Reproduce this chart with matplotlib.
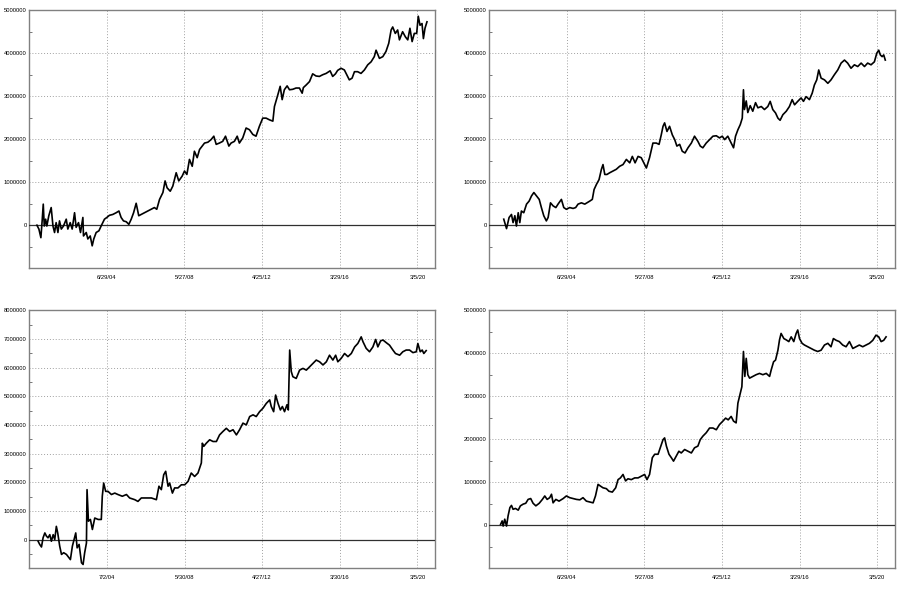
import numpy as np
import matplotlib
matplotlib.use("Agg")
import matplotlib.pyplot as plt
from matplotlib.ticker import FixedLocator, MultipleLocator, FuncFormatter

# equity curves (x = decimal year, y = millions)
yr1 = [2000.96, 2001.06, 2001.16, 2001.23, 2001.28, 2001.33, 2001.40, 2001.46, 2001.56, 2001.68,
       2001.77, 2001.85, 2001.93, 2002.02, 2002.10, 2002.19, 2002.30, 2002.44, 2002.52, 2002.64,
       2002.74, 2002.86, 2002.94, 2003.06, 2003.16, 2003.28, 2003.31, 2003.45, 2003.53, 2003.65,
       2003.75, 2003.83, 2003.95, 2004.09, 2004.20, 2004.37, 2004.49, 2004.62, 2004.79, 2004.96,
       2005.10, 2005.21, 2005.33, 2005.47, 2005.60, 2005.72, 2005.84, 2005.97, 2006.10, 2006.22,
       2006.39, 2006.56, 2006.73, 2006.89, 2007.01, 2007.15, 2007.32, 2007.43, 2007.53, 2007.69,
       2007.82, 2007.99, 2008.12, 2008.29, 2008.41, 2008.53, 2008.66, 2008.80, 2008.91, 2009.05,
       2009.17, 2009.30, 2009.42, 2009.59, 2009.75, 2009.89, 2010.01, 2010.17, 2010.34, 2010.48,
       2010.65, 2010.76, 2010.93, 2011.07, 2011.18, 2011.35, 2011.52, 2011.69, 2011.86, 2012.02,
       2012.19, 2012.36, 2012.53, 2012.70, 2012.87, 2012.95, 2013.12, 2013.24, 2013.34, 2013.45,
       2013.59, 2013.71, 2013.87, 2014.04, 2014.21, 2014.35, 2014.41, 2014.55, 2014.72, 2014.88,
       2015.05, 2015.22, 2015.39, 2015.56, 2015.76, 2015.89, 2016.03, 2016.14, 2016.31, 2016.48,
       2016.60, 2016.73, 2016.87, 2016.99, 2017.15, 2017.32, 2017.49, 2017.66, 2017.83, 2017.99,
       2018.08, 2018.25, 2018.42, 2018.58, 2018.72, 2018.84, 2018.92, 2019.05, 2019.17, 2019.26,
       2019.42, 2019.56, 2019.68, 2019.79, 2019.90, 2020.01, 2020.13, 2020.21, 2020.30, 2020.40,
       2020.47, 2020.55, 2020.65]
eq1 = [0.00, -0.09, -0.29, 0.14, 0.49, -0.02, 0.14, -0.02, 0.22, 0.41,
       -0.02, -0.17, 0.06, -0.17, 0.10, -0.09, -0.02, 0.14, -0.09, 0.06,
       -0.09, 0.29, -0.05, 0.06, -0.17, 0.18, -0.25, -0.17, -0.32, -0.25,
       -0.48, -0.32, -0.17, -0.13, -0.02, 0.14, 0.18, 0.23, 0.25, 0.29,
       0.33, 0.18, 0.10, 0.08, 0.02, 0.14, 0.29, 0.51, 0.22, 0.25,
       0.29, 0.33, 0.37, 0.41, 0.37, 0.60, 0.76, 1.03, 0.87, 0.79,
       0.91, 1.22, 1.03, 1.14, 1.26, 1.18, 1.53, 1.37, 1.72, 1.57,
       1.76, 1.84, 1.91, 1.93, 1.99, 2.07, 1.88, 1.91, 1.95, 2.07,
       1.84, 1.91, 1.95, 2.07, 1.91, 2.03, 2.26, 2.22, 2.11, 2.07,
       2.30, 2.49, 2.49, 2.45, 2.42, 2.76, 3.03, 3.23, 2.92, 3.15,
       3.24, 3.15, 3.16, 3.19, 3.19, 3.07, 3.20, 3.26, 3.34, 3.52,
       3.47, 3.46, 3.50, 3.53, 3.59, 3.46, 3.52, 3.60, 3.65, 3.61,
       3.50, 3.38, 3.42, 3.57, 3.57, 3.53, 3.61, 3.73, 3.80, 3.92,
       4.07, 3.88, 3.92, 4.04, 4.23, 4.54, 4.61, 4.46, 4.54, 4.31,
       4.50, 4.38, 4.31, 4.58, 4.27, 4.46, 4.46, 4.86, 4.65, 4.69,
       4.34, 4.58, 4.73]

yr2 = [2001.31, 2001.45, 2001.58, 2001.70, 2001.78, 2001.87, 2001.95, 2002.04, 2002.12, 2002.20,
       2002.32, 2002.46, 2002.59, 2002.71, 2002.83, 2002.93, 2003.10, 2003.21, 2003.33, 2003.46,
       2003.55, 2003.67, 2003.80, 2003.94, 2004.05, 2004.22, 2004.34, 2004.47, 2004.64, 2004.81,
       2004.94, 2005.06, 2005.23, 2005.40, 2005.65, 2005.78, 2005.87, 2005.99, 2006.12, 2006.24,
       2006.32, 2006.41, 2006.52, 2006.66, 2006.83, 2006.99, 2007.16, 2007.33, 2007.50, 2007.67,
       2007.80, 2007.94, 2008.09, 2008.25, 2008.51, 2008.67, 2008.84, 2009.01, 2009.15, 2009.26,
       2009.35, 2009.43, 2009.55, 2009.68, 2009.82, 2009.94, 2010.05, 2010.19, 2010.32, 2010.46,
       2010.61, 2010.78, 2010.94, 2011.11, 2011.23, 2011.36, 2011.53, 2011.70, 2011.87, 2012.04,
       2012.20, 2012.34, 2012.46, 2012.62, 2012.79, 2012.91, 2013.01, 2013.13, 2013.25, 2013.35,
       2013.41, 2013.46, 2013.55, 2013.63, 2013.75, 2013.88, 2014.02, 2014.14, 2014.31, 2014.47,
       2014.64, 2014.76, 2014.89, 2015.03, 2015.15, 2015.26, 2015.40, 2015.57, 2015.73, 2015.87,
       2015.99, 2016.15, 2016.32, 2016.44, 2016.57, 2016.74, 2016.88, 2016.99, 2017.11, 2017.21,
       2017.33, 2017.50, 2017.67, 2017.83, 2018.00, 2018.17, 2018.34, 2018.51, 2018.67, 2018.84,
       2019.01, 2019.18, 2019.35, 2019.52, 2019.68, 2019.85, 2020.02, 2020.14, 2020.24, 2020.32,
       2020.41, 2020.49, 2020.57]
eq2 = [0.14, -0.08, 0.18, 0.25, 0.06, 0.22, -0.02, 0.29, 0.06, 0.33,
       0.29, 0.49, 0.56, 0.68, 0.76, 0.70, 0.60, 0.41, 0.22, 0.10,
       0.18, 0.52, 0.45, 0.41, 0.49, 0.60, 0.41, 0.37, 0.41, 0.39,
       0.41, 0.49, 0.52, 0.49, 0.56, 0.60, 0.83, 0.95, 1.06, 1.30,
       1.41, 1.18, 1.18, 1.22, 1.26, 1.30, 1.37, 1.41, 1.53, 1.45,
       1.60, 1.45, 1.60, 1.57, 1.33, 1.57, 1.91, 1.91, 1.88, 2.10,
       2.30, 2.38, 2.18, 2.30, 2.10, 1.99, 1.84, 1.88, 1.72, 1.68,
       1.80, 1.91, 2.07, 1.95, 1.84, 1.80, 1.91, 1.99, 2.07, 2.08,
       2.03, 2.07, 1.99, 2.07, 1.91, 1.80, 2.07, 2.22, 2.34, 2.49,
       3.15, 2.69, 2.89, 2.62, 2.78, 2.65, 2.85, 2.73, 2.76, 2.69,
       2.76, 2.88, 2.69, 2.61, 2.49, 2.44, 2.57, 2.65, 2.76, 2.92,
       2.80, 2.88, 2.96, 2.88, 2.99, 2.92, 3.07, 3.26, 3.38, 3.61,
       3.42, 3.38, 3.30, 3.38, 3.50, 3.61, 3.77, 3.84, 3.77, 3.65,
       3.73, 3.69, 3.77, 3.69, 3.77, 3.73, 3.80, 4.00, 4.07, 3.96,
       3.92, 3.96, 3.84]

yr3 = [2001.02, 2001.10, 2001.19, 2001.27, 2001.36, 2001.44, 2001.52, 2001.61, 2001.69, 2001.78,
       2001.86, 2001.94, 2002.01, 2002.11, 2002.20, 2002.31, 2002.45, 2002.58, 2002.65, 2002.75,
       2002.92, 2002.99, 2003.09, 2003.21, 2003.29, 2003.37, 2003.46, 2003.49, 2003.56, 2003.66,
       2003.76, 2003.88, 2004.05, 2004.21, 2004.26, 2004.33, 2004.43, 2004.55, 2004.72, 2004.89,
       2005.05, 2005.27, 2005.48, 2005.64, 2005.90, 2006.06, 2006.23, 2006.48, 2006.74, 2006.99,
       2007.12, 2007.24, 2007.36, 2007.46, 2007.58, 2007.66, 2007.80, 2007.91, 2008.08, 2008.25,
       2008.42, 2008.59, 2008.75, 2008.92, 2009.09, 2009.26, 2009.31, 2009.38, 2009.51, 2009.68,
       2009.85, 2010.02, 2010.18, 2010.35, 2010.52, 2010.69, 2010.86, 2011.03, 2011.19, 2011.36,
       2011.53, 2011.70, 2011.87, 2012.03, 2012.20, 2012.37, 2012.54, 2012.71, 2012.79, 2012.91,
       2013.01, 2013.13, 2013.25, 2013.35, 2013.46, 2013.58, 2013.65, 2013.72, 2013.80, 2013.88,
       2014.05, 2014.22, 2014.39, 2014.56, 2014.73, 2014.89, 2015.06, 2015.23, 2015.40, 2015.57,
       2015.73, 2015.90, 2016.04, 2016.15, 2016.32, 2016.49, 2016.66, 2016.83, 2017.00, 2017.16,
       2017.33, 2017.42, 2017.58, 2017.75, 2017.92, 2018.06, 2018.17, 2018.31, 2018.43, 2018.59,
       2018.76, 2018.93, 2019.06, 2019.27, 2019.43, 2019.60, 2019.77, 2019.94, 2020.11, 2020.19,
       2020.31, 2020.41, 2020.49, 2020.61]
eq3 = [-0.06, -0.17, -0.26, 0.06, 0.23, 0.12, 0.06, 0.17, -0.06, 0.17,
       0.00, 0.46, 0.23, -0.23, -0.52, -0.46, -0.52, -0.64, -0.70, -0.23,
       0.23, -0.29, -0.17, -0.81, -0.87, -0.46, -0.12, 1.74, 0.64, 0.70,
       0.35, 0.75, 0.70, 0.70, 1.51, 1.97, 1.68, 1.68, 1.57, 1.62,
       1.57, 1.51, 1.57, 1.45, 1.39, 1.33, 1.45, 1.45, 1.45, 1.39,
       1.86, 1.74, 2.26, 2.38, 1.86, 1.97, 1.62, 1.80, 1.80, 1.91,
       1.91, 2.03, 2.32, 2.20, 2.32, 2.67, 3.36, 3.25, 3.36, 3.48,
       3.42, 3.42, 3.65, 3.77, 3.88, 3.77, 3.83, 3.65, 3.83, 4.06,
       4.00, 4.29, 4.35, 4.29, 4.46, 4.58, 4.75, 4.87, 4.64, 4.46,
       5.04, 4.75, 4.52, 4.64, 4.46, 4.70, 4.52, 6.61, 5.86, 5.68,
       5.62, 5.91, 5.97, 5.91, 6.03, 6.14, 6.26, 6.20, 6.09, 6.20,
       6.43, 6.26, 6.43, 6.20, 6.32, 6.49, 6.38, 6.49, 6.72, 6.84,
       7.07, 6.90, 6.67, 6.55, 6.72, 6.98, 6.72, 6.93, 6.96, 6.87,
       6.78, 6.61, 6.49, 6.43, 6.55, 6.61, 6.61, 6.52, 6.55, 6.84,
       6.55, 6.61, 6.49, 6.59]

yr4 = [2001.15, 2001.23, 2001.28, 2001.36, 2001.45, 2001.53, 2001.62, 2001.70, 2001.78, 2001.90,
       2002.04, 2002.15, 2002.29, 2002.42, 2002.54, 2002.67, 2002.79, 2002.93, 2003.10, 2003.26,
       2003.38, 2003.50, 2003.63, 2003.72, 2003.80, 2003.94, 2004.10, 2004.31, 2004.47, 2004.64,
       2004.81, 2004.98, 2005.15, 2005.31, 2005.48, 2005.65, 2005.82, 2005.94, 2006.07, 2006.19,
       2006.32, 2006.49, 2006.62, 2006.79, 2006.96, 2007.08, 2007.20, 2007.33, 2007.46, 2007.58,
       2007.75, 2007.92, 2008.09, 2008.25, 2008.42, 2008.54, 2008.67, 2008.81, 2008.93, 2009.10,
       2009.21, 2009.35, 2009.43, 2009.52, 2009.65, 2009.77, 2009.88, 2010.02, 2010.15, 2010.27,
       2010.44, 2010.61, 2010.78, 2010.94, 2011.11, 2011.23, 2011.36, 2011.53, 2011.70, 2011.87,
       2012.04, 2012.20, 2012.37, 2012.51, 2012.64, 2012.79, 2012.91, 2013.04, 2013.13, 2013.25,
       2013.33, 2013.41, 2013.48, 2013.55, 2013.63, 2013.72, 2013.88, 2014.05, 2014.22, 2014.39,
       2014.56, 2014.73, 2014.81, 2014.93, 2015.03, 2015.15, 2015.23, 2015.31, 2015.45, 2015.57,
       2015.70, 2015.82, 2015.95, 2016.07, 2016.15, 2016.24, 2016.37, 2016.49, 2016.66, 2016.83,
       2016.99, 2017.16, 2017.33, 2017.50, 2017.67, 2017.83, 2017.95, 2018.09, 2018.25, 2018.42,
       2018.59, 2018.76, 2018.93, 2019.10, 2019.26, 2019.43, 2019.60, 2019.77, 2019.94, 2020.10,
       2020.24, 2020.36, 2020.49, 2020.61]
eq4 = [0.02, 0.10, -0.02, 0.14, -0.02, 0.22, 0.41, 0.46, 0.37, 0.39,
       0.35, 0.45, 0.49, 0.51, 0.60, 0.62, 0.51, 0.45, 0.51, 0.60,
       0.68, 0.60, 0.64, 0.72, 0.52, 0.60, 0.56, 0.62, 0.68, 0.64,
       0.62, 0.60, 0.59, 0.64, 0.56, 0.54, 0.52, 0.68, 0.95, 0.91,
       0.87, 0.85, 0.79, 0.77, 0.87, 1.06, 1.10, 1.18, 1.03, 1.08,
       1.06, 1.10, 1.10, 1.14, 1.18, 1.06, 1.18, 1.57, 1.65, 1.65,
       1.80, 1.99, 2.03, 1.84, 1.65, 1.57, 1.49, 1.61, 1.72, 1.68,
       1.76, 1.72, 1.68, 1.80, 1.84, 1.99, 2.07, 2.15, 2.26, 2.26,
       2.22, 2.34, 2.42, 2.49, 2.45, 2.53, 2.42, 2.38, 2.84, 3.07,
       3.22, 4.04, 3.46, 3.88, 3.50, 3.42, 3.46, 3.50, 3.53, 3.50,
       3.53, 3.46, 3.61, 3.80, 3.84, 4.07, 4.31, 4.46, 4.34, 4.31,
       4.27, 4.38, 4.27, 4.46, 4.54, 4.34, 4.23, 4.19, 4.15, 4.11,
       4.07, 4.04, 4.07, 4.19, 4.23, 4.15, 4.34, 4.30, 4.27, 4.19,
       4.15, 4.27, 4.11, 4.15, 4.19, 4.15, 4.19, 4.23, 4.30, 4.42,
       4.38, 4.27, 4.30, 4.38]

tick_yr_a = [2004.49, 2008.40, 2012.31, 2016.24, 2020.17]
tick_lab_a = ["6/29/04", "5/27/08", "4/25/12", "3/29/16", "3/5/20"]
tick_yr_b = [2004.50, 2008.41, 2012.32, 2016.24, 2020.17]
tick_lab_b = ["7/2/04", "5/30/08", "4/27/12", "3/30/16", "3/5/20"]

panels = [
    (yr1, eq1, 5, tick_yr_a, tick_lab_a, [0.032, 0.553, 0.451, 0.430]),
    (yr2, eq2, 5, tick_yr_a, tick_lab_a, [0.543, 0.553, 0.451, 0.430]),
    (yr3, eq3, 8, tick_yr_b, tick_lab_b, [0.032, 0.053, 0.451, 0.430]),
    (yr4, eq4, 5, tick_yr_a, tick_lab_a, [0.543, 0.053, 0.451, 0.430]),
]

plt.rcParams["font.family"] = ["Liberation Sans", "DejaVu Sans"]
fig = plt.figure(figsize=(9, 6), dpi=100)

def ylab(v, pos):
    if v < 0:
        return ""
    return "%d" % int(round(v))

for yrs, eq, top, tx, tl, rect in panels:
    ax = fig.add_axes(rect)
    ax.plot(yrs, np.array(eq) * 1e6, color="black", lw=1.2, zorder=4)
    ax.axhline(0, color="#303030", lw=0.9, zorder=3)
    ax.set_xlim(2000.55, 2021.04)
    ax.set_ylim(-1e6, top * 1e6)
    ax.yaxis.set_major_locator(MultipleLocator(1e6))
    ax.yaxis.set_minor_locator(MultipleLocator(5e5))
    ax.yaxis.set_major_formatter(FuncFormatter(ylab))
    ax.xaxis.set_major_locator(FixedLocator(tx))
    ax.set_xticklabels(tl)
    ax.set_axisbelow(True)
    ax.grid(True, color="#a0a0a0", ls=(0, (1, 2)), lw=0.7)
    ax.tick_params(axis="both", which="major", labelsize=4.2, length=0, pad=1.5)
    ax.tick_params(axis="x", which="major", pad=5)
    ax.tick_params(axis="y", which="minor", direction="in", length=2, color="#606060")
    for s in ax.spines.values():
        s.set_color("#808080")
        s.set_linewidth(1.0)

fig.savefig("out.png", dpi=100)
